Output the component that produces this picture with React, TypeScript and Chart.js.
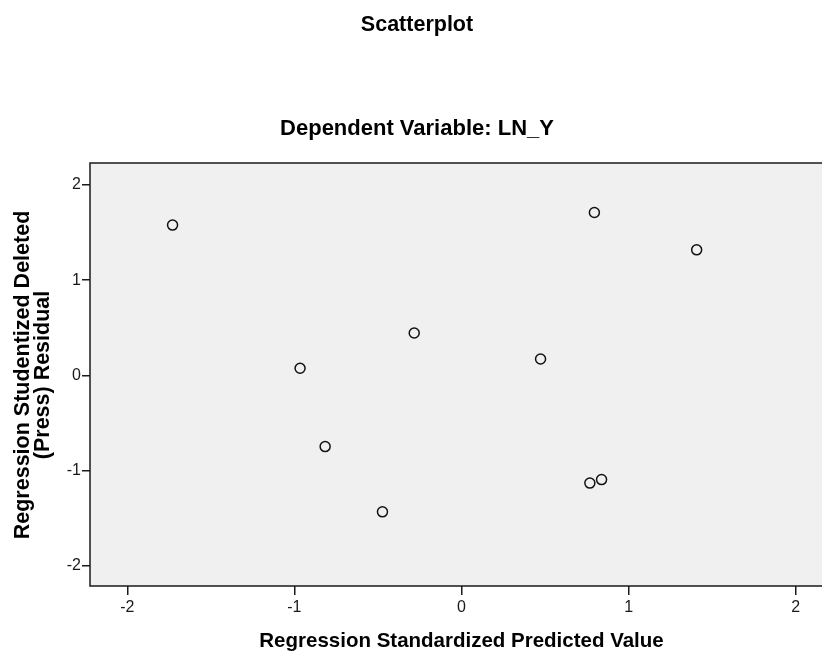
import React, { useEffect, useRef } from "react";
import { Chart, registerables } from "chart.js";

Chart.register(...registerables);

const predicted = [-1.729, -0.283, -0.966, -0.816, -0.473, 0.795, 1.407, 0.473, 0.768, 0.838];
const residual = [1.579, 0.444, 0.074, -0.75, -1.436, 1.712, 1.319, 0.171, -1.134, -1.097];
const xTicks = [-2, -1, 0, 1, 2];
const yTicks = [-2, -1, 0, 1, 2];
const mainTitle = "Scatterplot";
const subTitle = "Dependent Variable: LN_Y";
const xTitle = "Regression Standardized Predicted Value";
const yTitleLines = ["Regression Studentized Deleted", "(Press) Residual"];

const FONT = "'Liberation Sans', Arial, sans-serif";

function pickTickFont() {
  const c = document.createElement("canvas").getContext("2d")!;
  const s = "Regression 0123456789";
  c.font = "18px monospace";
  const a = c.measureText(s).width;
  c.font = "18px 'Liberation Sans Narrow', monospace";
  const b = c.measureText(s).width;
  if (Math.abs(a - b) > 0.5) return { family: "'Liberation Sans Narrow'", size: 18 };
  c.font = "18px 'Arial Narrow', monospace";
  const d = c.measureText(s).width;
  if (Math.abs(a - d) > 0.5) return { family: "'Arial Narrow'", size: 18 };
  return { family: FONT, size: 16 };
}

const decor = {
  id: "decor",
  beforeDraw(chart: any) {
    const { ctx, chartArea: a } = chart;
    ctx.save();
    ctx.fillStyle = "#ffffff";
    ctx.fillRect(0, 0, chart.width, chart.height);
    ctx.fillStyle = "#f0f0f0";
    ctx.fillRect(a.left, a.top, a.right - a.left, a.bottom - a.top);
    ctx.restore();
  },
  afterDraw(chart: any) {
    const { ctx, chartArea: a } = chart;
    ctx.save();
    ctx.strokeStyle = "#1a1a1a";
    ctx.lineWidth = 1.5;
    ctx.beginPath();
    ctx.moveTo(a.right + 2, a.top);
    ctx.lineTo(a.left, a.top);
    ctx.lineTo(a.left, a.bottom);
    ctx.lineTo(a.right + 2, a.bottom);
    ctx.stroke();
    ctx.fillStyle = "#000";
    ctx.textAlign = "center";
    ctx.textBaseline = "alphabetic";
    ctx.font = `bold 21.5px ${FONT}`;
    ctx.fillText(mainTitle, 417, 31);
    ctx.font = `bold 22px ${FONT}`;
    ctx.fillText(subTitle, 417, 135);
    ctx.font = `bold 20.5px ${FONT}`;
    ctx.fillText(xTitle, 461.5, 647);
    ctx.font = `bold 21.5px ${FONT}`;
    ctx.translate(0, 375);
    ctx.rotate(-Math.PI / 2);
    ctx.fillText(yTitleLines[0], 0, 28.5);
    ctx.fillText(yTitleLines[1], 0, 48.5);
    ctx.restore();
  },
};

export default function App() {
  const ref = useRef<HTMLCanvasElement>(null);
  useEffect(() => {
    const tickFont = pickTickFont();
    const chart = new Chart(ref.current!, {
      type: "scatter",
      data: {
        datasets: [
          {
            data: predicted.map((x, i) => ({ x, y: residual[i] })),
            pointRadius: 5,
            pointHoverRadius: 5,
            pointBorderWidth: 1.5,
            pointBorderColor: "#111",
            pointBackgroundColor: "rgba(0,0,0,0)",
          },
        ],
      },
      options: {
        responsive: false,
        animation: false,
        layout: { autoPadding: false, padding: { top: 163, right: 0, left: 0, bottom: 0 } },
        plugins: { legend: { display: false }, tooltip: { enabled: false }, title: { display: false } },
        scales: {
          x: {
            type: "linear",
            min: -2.223,
            max: 2.157,
            afterFit: (s: any) => {
              s.height = 68;
              s.paddingLeft = 0;
              s.paddingRight = 0;
            },
            afterBuildTicks: (s: any) => { s.ticks = xTicks.map((v) => ({ value: v })); },
            grid: { drawOnChartArea: false, drawTicks: true, tickLength: 9, color: "#1a1a1a", lineWidth: 1.5 },
            border: { display: false },
            ticks: { color: "#1a1a1a", font: tickFont, padding: 3, callback: (v: any) => String(v) },
          },
          y: {
            type: "linear",
            min: -2.216,
            max: 2.232,
            afterFit: (s: any) => {
              s.width = 90;
              s.paddingTop = 0;
              s.paddingBottom = 0;
            },
            afterBuildTicks: (s: any) => { s.ticks = yTicks.map((v) => ({ value: v })); },
            grid: { drawOnChartArea: false, drawTicks: true, tickLength: 8, color: "#1a1a1a", lineWidth: 1.5 },
            border: { display: false },
            ticks: { color: "#1a1a1a", font: tickFont, padding: 1, callback: (v: any) => String(v) },
          },
        },
      },
      plugins: [decor],
    });
    return () => chart.destroy();
  }, []);
  return (
    <div style={{ position: "fixed", left: 0, top: 0, width: 822, height: 654 }}>
      <canvas ref={ref} width={822} height={654} />
    </div>
  );
}
